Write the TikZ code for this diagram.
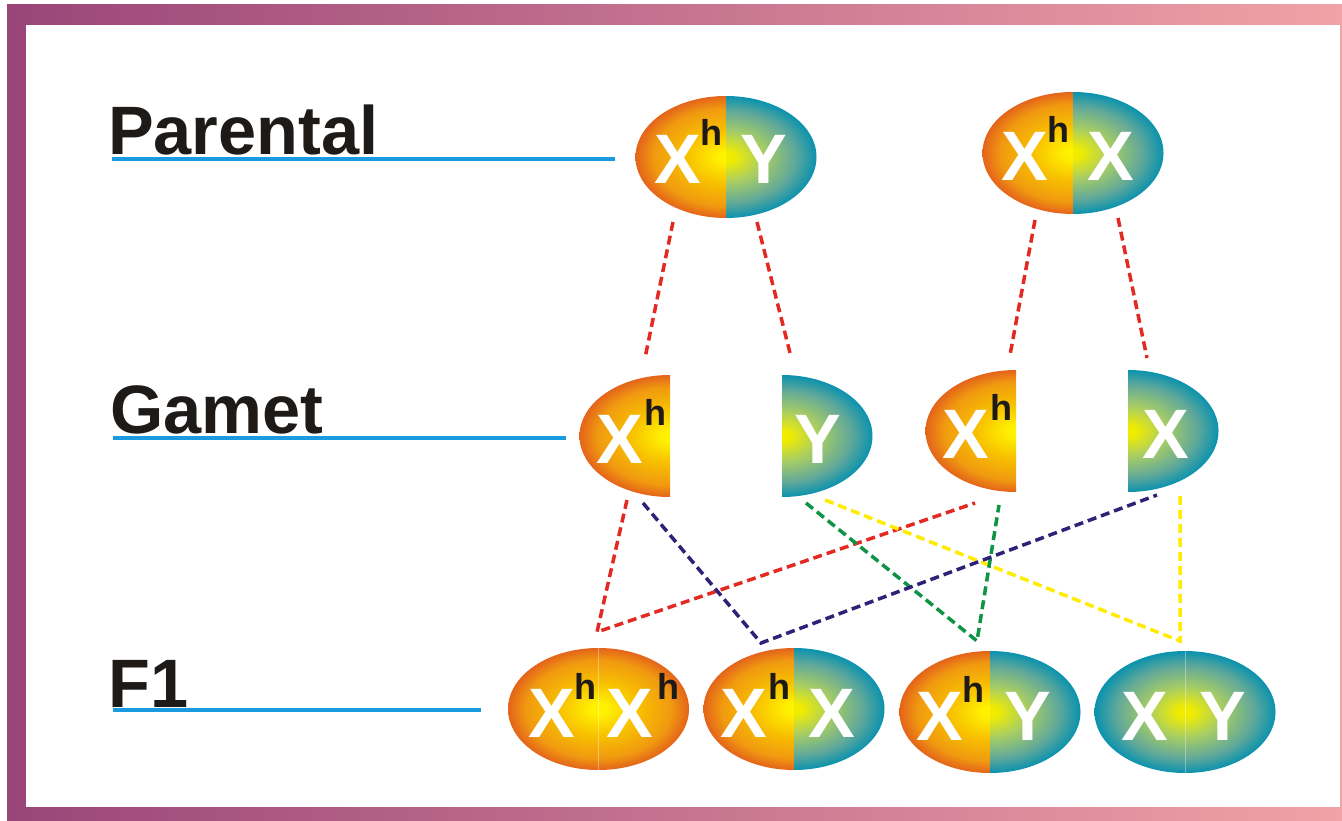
\documentclass[tikz,border=0pt]{standalone}
\usepackage{fontspec}
\setmainfont{Liberation Sans}
\usetikzlibrary{calc}
\definecolor{oyA}{HTML}{FFF200}
\definecolor{oyB}{HTML}{F8C000}
\definecolor{oyC}{HTML}{F09A10}
\definecolor{oyD}{HTML}{E4641A}
\definecolor{tA}{HTML}{F0EC00}
\definecolor{tB}{HTML}{AACE62}
\definecolor{tC}{HTML}{60A89A}
\definecolor{tD}{HTML}{0A92AE}
\definecolor{frameL}{HTML}{9A4579}
\definecolor{frameR}{HTML}{F0A2A6}
\definecolor{ulblue}{HTML}{1A9BE0}
\definecolor{cred}{HTML}{E32A22}
\definecolor{cnavy}{HTML}{2D2277}
\definecolor{cgreen}{HTML}{0E9444}
\definecolor{cyellow}{HTML}{FFEC00}
\definecolor{ink}{HTML}{1E1A18}
\pgfdeclareradialshading{orangeS}{\pgfpoint{0bp}{0bp}}{color(0bp)=(oyA); color(2bp)=(oyA); color(11bp)=(oyB); color(20bp)=(oyC); color(25bp)=(oyD); color(50bp)=(oyD)}
\pgfdeclareradialshading{tealS}{\pgfpoint{0bp}{0bp}}{color(0bp)=(tA); color(2bp)=(tA); color(10bp)=(tB); color(19bp)=(tC); color(25bp)=(tD); color(50bp)=(tD)}
\newcommand\leftpart[3]{%
  \begin{scope}\clip (#1-96,#2-66) rectangle (#1,#2+66);
  \shade[shading=#3] (#1,#2) ellipse [x radius=90.5pt, y radius=61pt];\end{scope}}
\newcommand\rightpart[3]{%
  \begin{scope}\clip (#1,#2-66) rectangle (#1+96,#2+66);
  \shade[shading=#3] (#1,#2) ellipse [x radius=90.5pt, y radius=61pt];\end{scope}}
\tikzset{
  big/.style={text=white, font=\fontsize{70}{70}\selectfont\bfseries, inner sep=0pt, anchor=base},
  sup/.style={text=ink, font=\fontsize{36}{36}\selectfont\bfseries, inner sep=0pt, anchor=base},
  lbl/.style={text=ink, font=\fontsize{68.5}{68.5}\selectfont\bfseries, inner sep=0pt, anchor=base west},
  uline/.style={draw=ulblue, line width=3.5pt},
  link/.style={line width=3.5pt, dash pattern=on 9pt off 5pt},
  faint/.style={draw=white, opacity=0.35, line width=0.8pt}
}
\begin{document}
\begin{tikzpicture}[x=1pt,y=-1pt]
\useasboundingbox (0,0) rectangle (1342,821);
% frame
\shade[left color=frameL, right color=frameR] (7,5) rectangle (1342,821);
\fill[white] (26,25) rectangle (1340,807);
% labels
\node[lbl] (lpar) at (108,155) {Parental};
\node[lbl] (lgam) at (110,433) {Gamet};
\node[lbl] (lf1) at (108,707) {F1};
\coordinate (up0) at (112,159); \coordinate (up1) at (615,159);
\coordinate (ug0) at (113,438); \coordinate (ug1) at (566,438);
\coordinate (uf0) at (113,710); \coordinate (uf1) at (481,710);
\draw[uline] (up0) -- (up1);
\draw[uline] (ug0) -- (ug1);
\draw[uline] (uf0) -- (uf1);
% parental 1 : Xh Y
\leftpart{726}{157}{orangeS}\rightpart{726}{157}{tealS}
\node[big] (p1a) at (678,184) {X};
\node[sup] (p1h) at (711,146) {h};
\node[big] (p1b) at (764,184) {Y};
% parental 2 : Xh X
\leftpart{1073}{153}{orangeS}\rightpart{1073}{153}{tealS}
\node[big] (p2a) at (1025,181) {X};
\node[sup] (p2h) at (1058,143) {h};
\node[big] (p2b) at (1111,181) {X};
% gametes
\leftpart{670}{436}{orangeS}
\node[big] (g1a) at (620,463) {X};
\node[sup] (g1h) at (655,425) {h};
\rightpart{782}{436}{tealS}
\node[big] (g2a) at (818,463) {Y};
\leftpart{1016}{431}{orangeS}
\node[big] (g3a) at (966,458) {X};
\node[sup] (g3h) at (1001,420) {h};
\rightpart{1128}{431}{tealS}
\node[big] (g4a) at (1166,458) {X};
% F1
\leftpart{598.5}{709}{orangeS}\rightpart{598.5}{709}{orangeS}
\draw[faint] (598.5,648) -- (598.5,770);
\node[big] (f1a) at (552,737) {X};
\node[sup] (f1h) at (585,699) {h};
\node[big] (f1b) at (630,737) {X};
\node[sup] (f1i) at (668,699) {h};
\leftpart{794}{709}{orangeS}\rightpart{794}{709}{tealS}
\node[big] (f2a) at (744,737) {X};
\node[sup] (f2h) at (779,699) {h};
\node[big] (f2b) at (832,737) {X};
\leftpart{990}{712}{orangeS}\rightpart{990}{712}{tealS}
\node[big] (f3a) at (940,740) {X};
\node[sup] (f3h) at (973,702) {h};
\node[big] (f3b) at (1028,740) {Y};
\leftpart{1185}{712}{tealS}\rightpart{1185}{712}{tealS}
\draw[faint] (1185,651) -- (1185,773);
\node[big] (f4a) at (1145,740) {X};
\node[big] (f4b) at (1223,740) {Y};
% connector points
\coordinate (a1) at (673,222); \coordinate (a2) at (645,358);
\coordinate (b1) at (757,222); \coordinate (b2) at (790,353);
\coordinate (c1) at (1035,220); \coordinate (c2) at (1010,355);
\coordinate (d1) at (1118,218); \coordinate (d2) at (1147,358);
\coordinate (r1) at (627,500); \coordinate (r2) at (597,632); \coordinate (r3) at (975,503);
\coordinate (n1) at (643,503); \coordinate (n2) at (761,643); \coordinate (n3) at (1157,495);
\coordinate (e1) at (806,503); \coordinate (e2) at (977,641); \coordinate (e3) at (999,505);
\coordinate (y1) at (825,500); \coordinate (y2) at (1180,641); \coordinate (y3) at (1180,495);
\draw[link, cred] (a1) -- (a2);
\draw[link, cred] (b1) -- (b2);
\draw[link, cred] (c1) -- (c2);
\draw[link, cred] (d1) -- (d2);
\draw[link, cred] (r1) -- (r2) -- (r3);
\draw[link, cyellow] (y1) -- (y2) -- (y3);
\draw[link, cgreen] (e1) -- (e2) -- (e3);
\draw[link, cnavy] (n1) -- (n2) -- (n3);
\end{tikzpicture}
\end{document}
